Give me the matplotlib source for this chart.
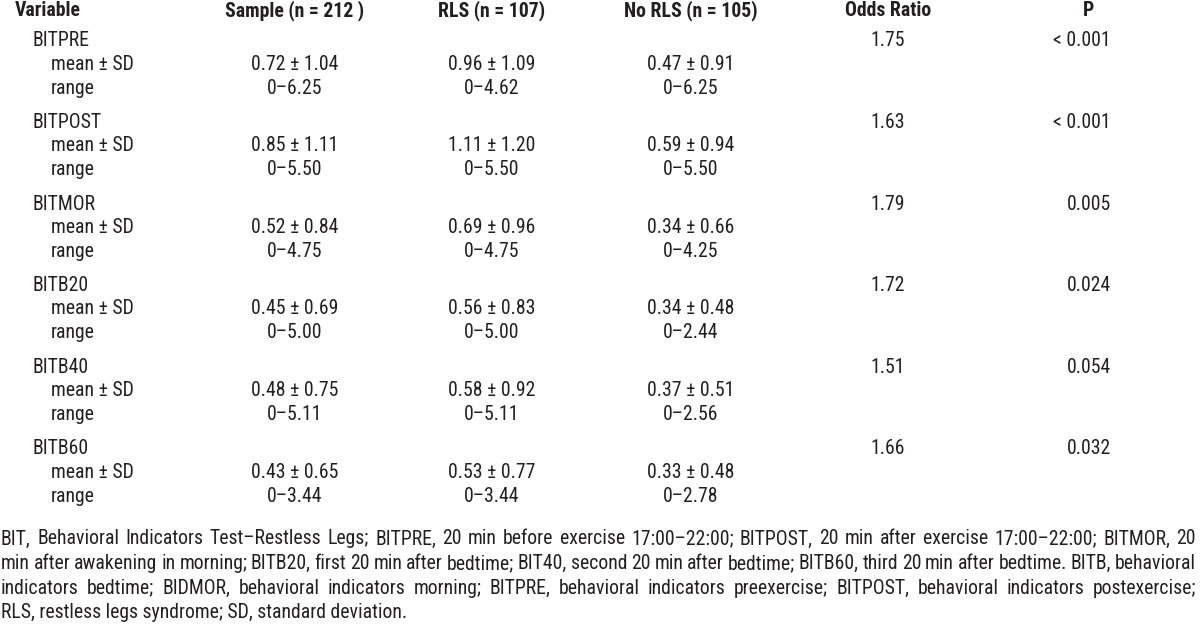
import matplotlib
matplotlib.use("Agg")
import matplotlib.pyplot as plt

# table content
headers = ["Variable", "Sample (n = 212 )", "RLS (n = 107)", "No RLS (n = 105)", "Odds Ratio", "P"]
variables = ["BITPRE", "BITPOST", "BITMOR", "BITB20", "BITB40", "BITB60"]
sample_mean_sd = ["0.72 ± 1.04", "0.85 ± 1.11", "0.52 ± 0.84", "0.45 ± 0.69", "0.48 ± 0.75", "0.43 ± 0.65"]
sample_range = ["0–6.25", "0–5.50", "0–4.75", "0–5.00", "0–5.11", "0–3.44"]
rls_mean_sd = ["0.96 ± 1.09", "1.11 ± 1.20", "0.69 ± 0.96", "0.56 ± 0.83", "0.58 ± 0.92", "0.53 ± 0.77"]
rls_range = ["0–4.62", "0–5.50", "0–4.75", "0–5.00", "0–5.11", "0–3.44"]
norls_mean_sd = ["0.47 ± 0.91", "0.59 ± 0.94", "0.34 ± 0.66", "0.34 ± 0.48", "0.37 ± 0.51", "0.33 ± 0.48"]
norls_range = ["0–6.25", "0–5.50", "0–4.25", "0–2.44", "0–2.56", "0–2.78"]
odds_ratio = ["1.75", "1.63", "1.79", "1.72", "1.51", "1.66"]
p_values = ["< 0.001", "< 0.001", "0.005", "0.024", "0.054", "0.032"]

footnote = [
    "BIT, Behavioral Indicators Test–Restless Legs; BITPRE, 20 min before exercise 17:00–22:00; "
    "BITPOST, 20 min after exercise 17:00–22:00; BITMOR, 20",
    "min after awakening in morning; BITB20, first 20 min after bedtime; BIT40, second 20 min after "
    "bedtime; BITB60, third 20 min after bedtime. BITB, behavioral",
    "indicators bedtime; BIDMOR, behavioral indicators morning; BITPRE, behavioral indicators "
    "preexercise; BITPOST, behavioral indicators postexercise;",
    "RLS, restless legs syndrome; SD, standard deviation.",
]

INK = "#231f20"
FONT = ["Roboto Condensed", "DejaVu Sans"]
FS = 14.2
BASE = 6.5  # distance from visual middle of capitals to the baseline, px

plt.rcParams["font.family"] = FONT

fig = plt.figure(figsize=(12, 6.35), dpi=100, facecolor="white")
ax = fig.add_axes([0, 0, 1, 1])
ax.set_xlim(0, 1200)
ax.set_ylim(635, 0)
ax.axis("off")


def put(x, y, s, ha="center", bold=False):
    # anchor on the baseline so every word of a line sits level
    return ax.text(x, y + BASE, s, ha=ha, va="baseline", fontsize=FS, color=INK,
                   fontweight="bold" if bold else "normal")


# header row
head_x = [15, 295, 492, 691, 888, 1088]
for i, (hx, h) in enumerate(zip(head_x, headers)):
    put(hx, 10, h, ha="left" if i == 0 else "center", bold=True)

# body rows
y0, step = 40, 81.6
for i, var in enumerate(variables):
    y = y0 + i * step
    put(32, y, var, ha="left")
    put(51, y + 23, "mean ± SD", ha="left")
    put(51, y + 47, "range", ha="left")
    put(295, y + 23, sample_mean_sd[i])
    put(295, y + 47, sample_range[i])
    put(492, y + 23, rls_mean_sd[i])
    put(492, y + 47, rls_range[i])
    put(691, y + 23, norls_mean_sd[i])
    put(691, y + 47, norls_range[i])
    put(888, y, odds_ratio[i])
    put(1111, y, p_values[i], ha="right")

# footnote, justified like the printed page
fig.canvas.draw()
renderer = fig.canvas.get_renderer()
left, right = 1, 1196
for k, line in enumerate(footnote):
    y = 538 + k * 24.6
    if k == len(footnote) - 1:
        put(left, y, line, ha="left")
        continue
    words = line.split(" ")
    arts = [put(0, y, w, ha="left") for w in words]
    widths = [a.get_window_extent(renderer).width for a in arts]
    gap = (right - left - sum(widths)) / (len(words) - 1)
    x = left
    for a, w in zip(arts, widths):
        a.set_x(x)
        x += w + gap

fig.savefig("out.png", dpi=100, facecolor="white")
